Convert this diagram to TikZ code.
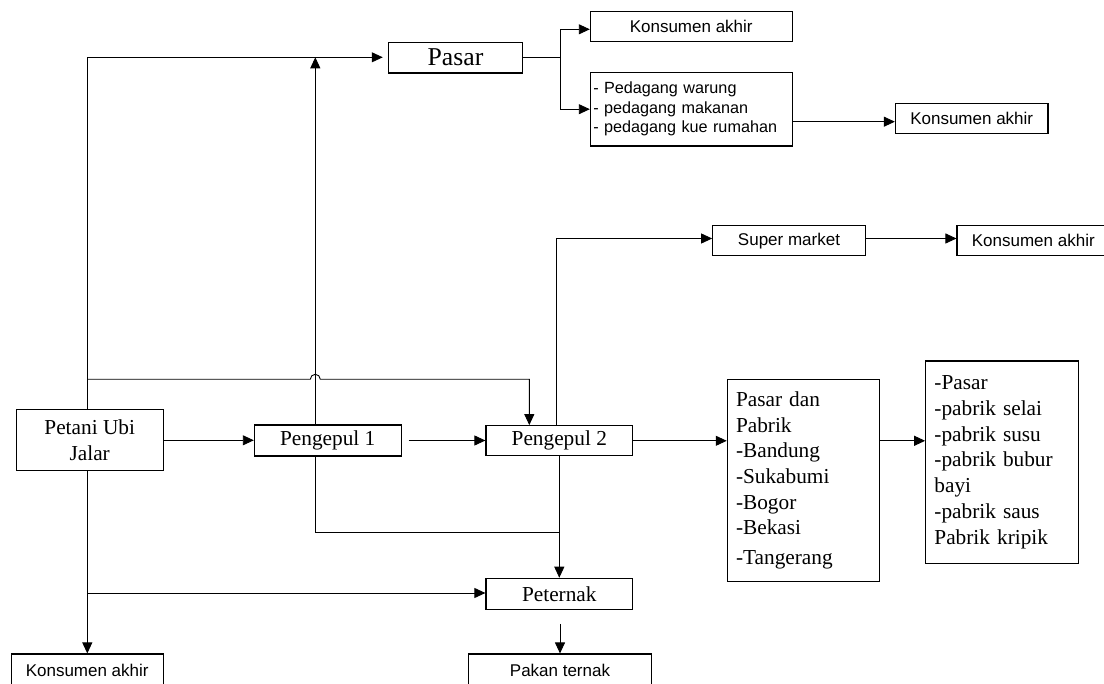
\documentclass[tikz,border=0pt]{standalone}
\usepackage{fontspec}
\setmainfont{Liberation Serif}
\newfontfamily\arialf{Liberation Sans}
\usetikzlibrary{arrows.meta}
\begin{document}
\begin{tikzpicture}[x=1pt,y=-1pt,
  box/.style={draw, line width=1.1pt, inner sep=0pt, rectangle, anchor=center},
  sbox/.style={box, font=\arialf\fontsize{17}{20}\selectfont},
  tbox/.style={box, font=\fontsize{21.3}{25.7}\selectfont},
  conn/.style={line width=0.9pt},
  arr/.style={conn, -{Triangle[length=11pt,width=10pt]}},
]
\useasboundingbox (0,0) rectangle (1104,684);
\clip (0,0) rectangle (1104,684);

% nodes
\node[box, minimum width=134.4pt, minimum height=30.7pt, font=\fontsize{25.7}{30}\selectfont] (pasar) at (455.5,57.7) {Pasar};
\node[sbox, minimum width=201.7pt, minimum height=30.3pt] (kons1) at (691.2,26.8) {Konsumen akhir};
\node[sbox, minimum width=201.7pt, minimum height=73.7pt, text width=195.7pt, inner xsep=3pt, align=left, font=\arialf\fontsize{16.2}{19.6}\selectfont] (dagang) at (691.2,109.2) {- Pedagang warung\\- pedagang makanan\\- pedagang kue rumahan};
\node[sbox, minimum width=152.6pt, minimum height=30.4pt] (kons2) at (971.7,118.5) {Konsumen akhir};
\node[sbox, minimum width=152.6pt, minimum height=30.3pt] (super) at (789,240.8) {Super market};
\node[sbox, minimum width=152.6pt, minimum height=30.3pt] (kons3) at (1033.3,240.8) {Konsumen akhir};
\node[tbox, minimum width=146.7pt, minimum height=61.3pt, align=center] (petani) at (89.7,440.3) {Petani Ubi\\Jalar};
\node[tbox, minimum width=146.7pt, minimum height=31pt] (p1) at (327.7,440.5) {Pengepul 1};
\node[tbox, minimum width=146.7pt, minimum height=30.3pt] (p2) at (559.3,440.8) {Pengepul 2};
\node[tbox, text width=135pt, inner xsep=8.7pt, minimum height=201.6pt, align=left] (pp) at (803.5,480.5) {Pasar dan\\Pabrik\\-Bandung\\-Sukabumi\\-Bogor\\-Bekasi\\[4pt]-Tangerang};
\node[tbox, text width=135.2pt, inner xsep=8.7pt, minimum height=202.3pt, align=left] (list) at (1002,462.2) {-Pasar\\-pabrik selai\\-pabrik susu\\-pabrik bubur\\bayi\\-pabrik saus\\Pabrik kripik};
\node[tbox, minimum width=146.7pt, minimum height=31pt] (ternak) at (559.3,593.8) {Peternak};
\node[sbox, minimum width=182.6pt, minimum height=32pt] (pakan) at (560,670) {Pakan ternak};
\node[sbox, minimum width=152.3pt, minimum height=32pt] (kons4) at (87.2,670) {Konsumen akhir};

% junction coordinates
\coordinate (L) at (87.3,57.3);
\coordinate (J) at (87.3,379.3);
\coordinate (K) at (87.3,593);
\coordinate (U) at (315.3,0);
\coordinate (B) at (560,57.3);

% connectors
\draw[arr, shorten >=5pt] (petani.north -| L) -- (L) -- (L -| pasar.west);
\draw[arr] (petani.east) -- (petani.east -| p1.west);
\draw[arr] ([xshift=7pt]p1.east) -- (p1.east -| p2.west);
\draw[arr] (p1.north -| U) -- (L -| U);
\draw[arr] (J) -- (310.3,379.3) arc[start angle=180,end angle=0,radius=5pt] -- (529.3,379.3) -- (p2.north -| 529.3,0);
\draw[arr] (p2.north -| 556.7,0) -- (556.7,238.5) -- (super.west |- 0,238.5);
\draw[arr] (super.east |- 0,238.5) -- (kons3.west |- 0,238.5);
\draw[conn] (pasar.east) -- (pasar.east -| B);
\draw[arr] (B) |- (kons1.west |- 0,29.3);
\draw[arr] (B) |- (dagang.west);
\draw[arr] (dagang.east |- 0,121.7) -- (kons2.west |- 0,121.7);
\draw[arr] (p2.east) -- (p2.east -| pp.west);
\draw[arr] (pp.east |- p2.east) -- (list.west |- p2.east);
\draw[arr] (p2.south -| 559.3,0) -- (ternak.north);
\draw[conn] (p1.south -| U) |- (559.3,532.7);
\draw[arr] (petani.south -| L) -- (kons4.north -| L);
\draw[arr] (K) -- (K -| ternak.west);
\draw[arr, shorten <=14pt] (ternak.south -| pakan.north) -- (pakan.north);
\end{tikzpicture}
\end{document}
